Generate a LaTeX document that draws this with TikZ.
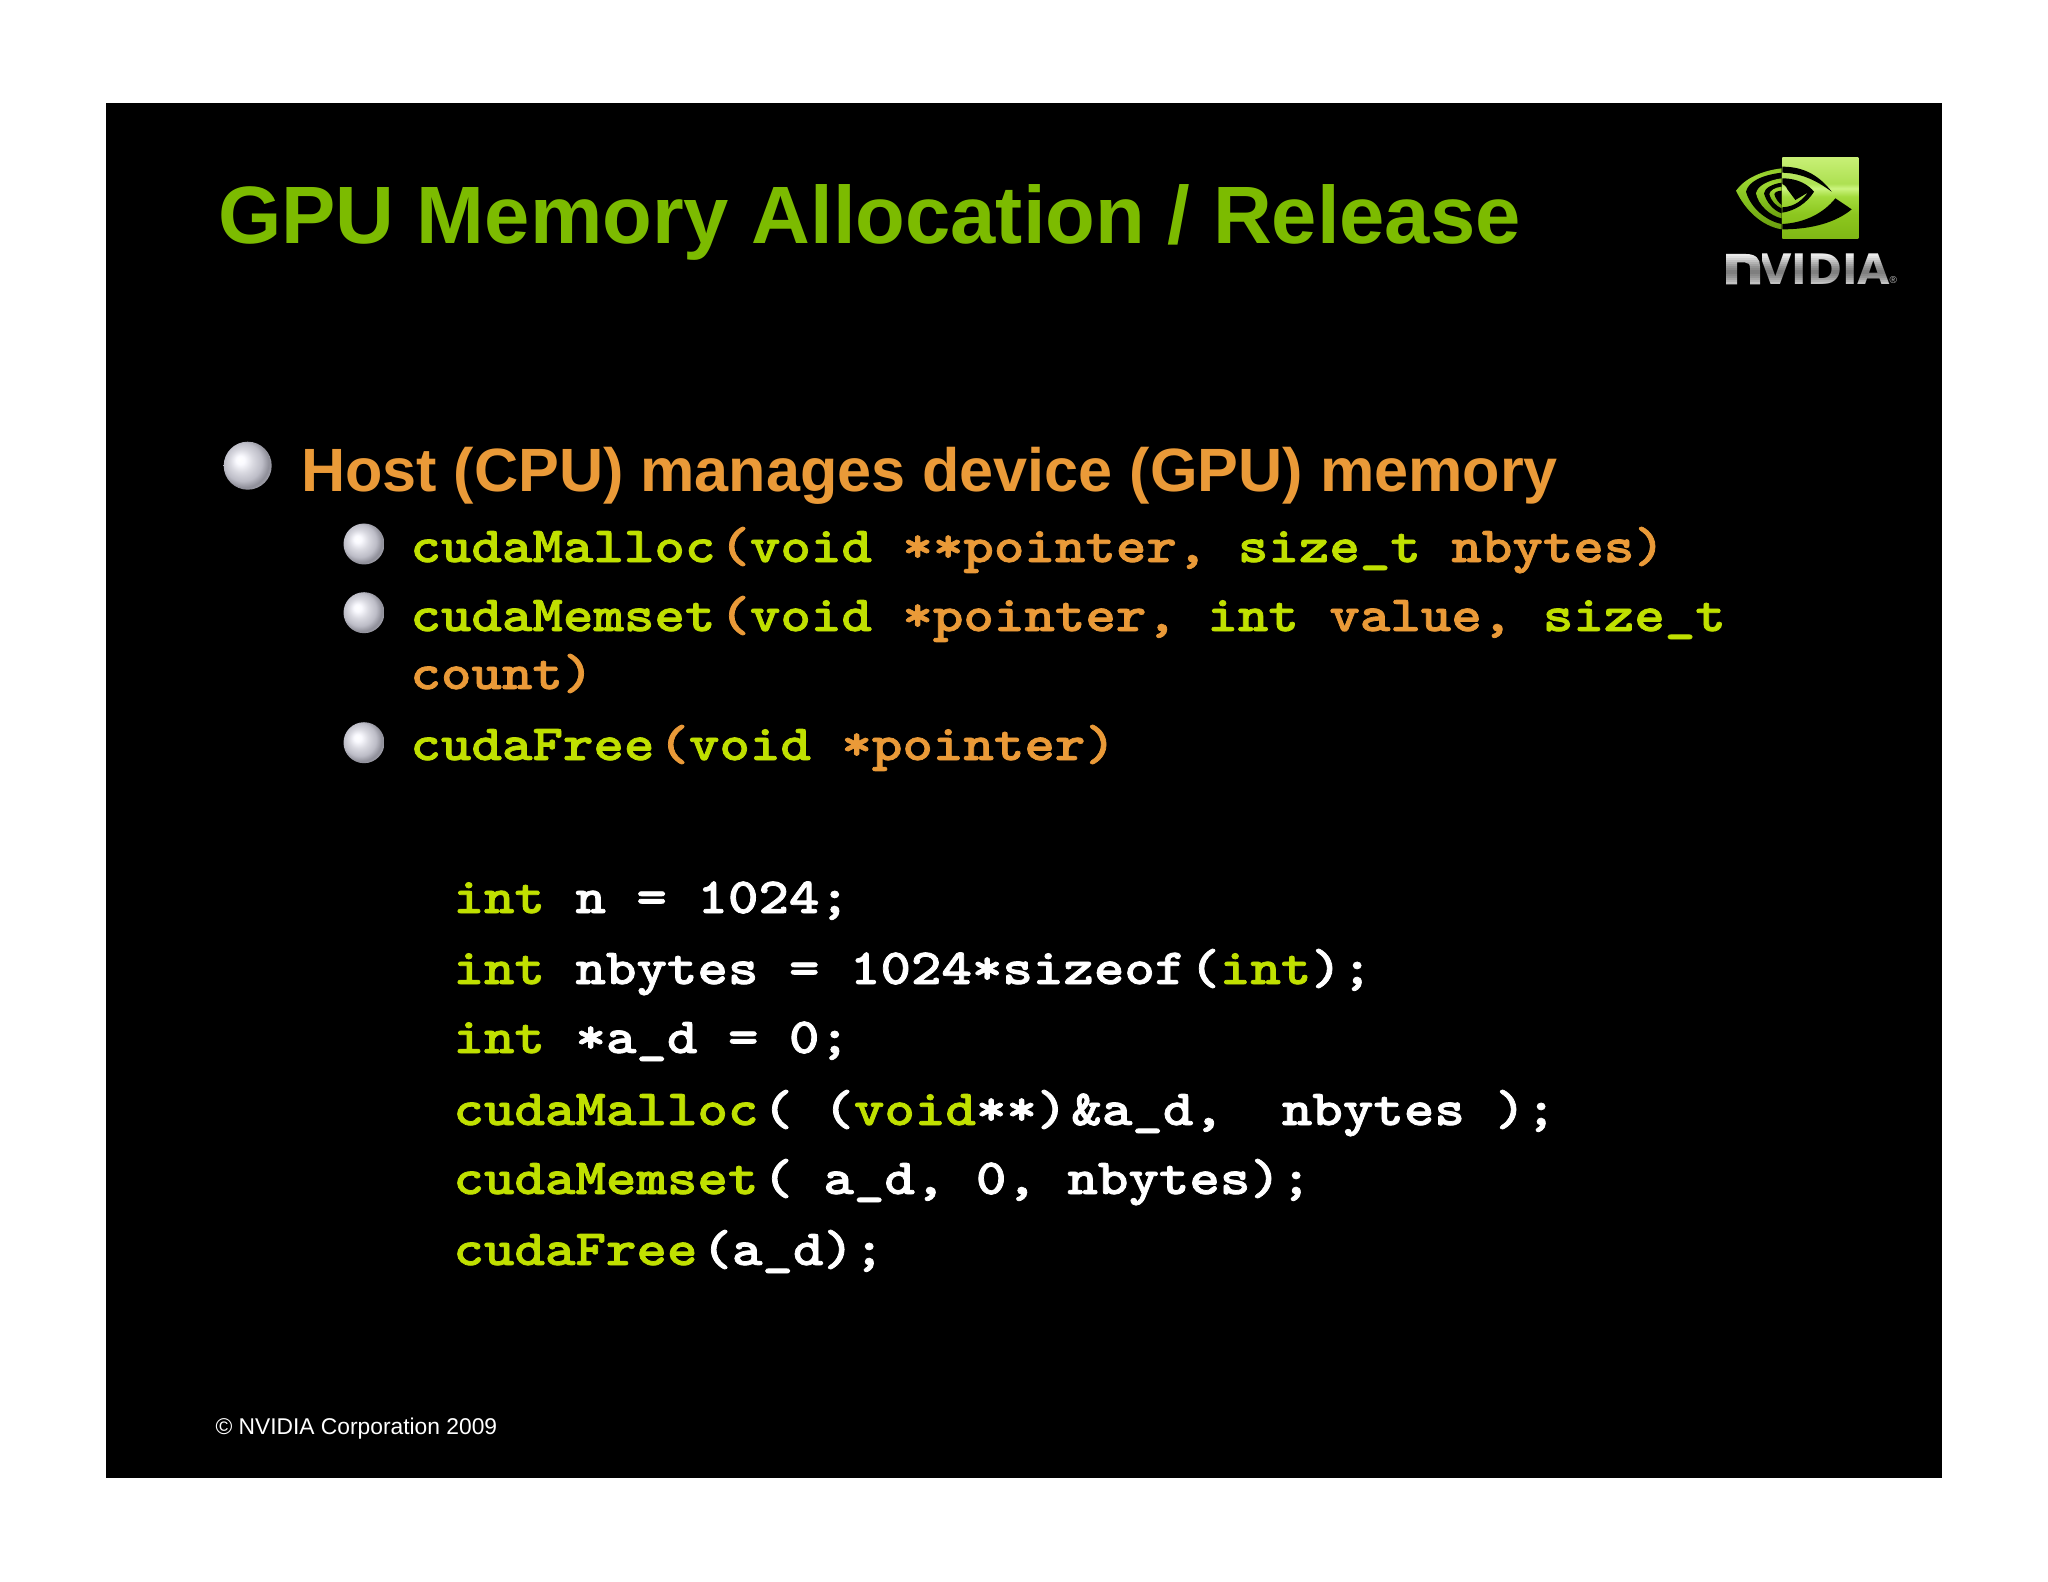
\documentclass[tikz,border=0pt]{standalone}
\usepackage{fontspec}
\setmainfont{Liberation Sans}
\newfontfamily\codefont[FakeStretch=1.148,BoldFont={Latin Modern Mono Light/B},BoldFeatures={FakeBold=1.5}]{Latin Modern Mono}
\newfontfamily\logofont{DejaVu Sans}
\definecolor{titlegreen}{HTML}{7CBB00}
\definecolor{bulorange}{HTML}{EA9A38}
\definecolor{codelime}{HTML}{C0E000}
\newcommand{\gc}[1]{\textcolor{codelime}{#1}}
\newcommand{\oc}[1]{\textcolor{bulorange}{#1}}
\newcommand{\rk}{\kern 2pt}
\pgfdeclareradialshading{ballsh}{\pgfpoint{-8.5bp}{6.5bp}}{%
  rgb(0bp)=(1,1,1);rgb(4.5bp)=(.98,.98,1);
  rgb(12bp)=(.85,.85,.88);rgb(20bp)=(.74,.74,.78);rgb(26bp)=(.56,.56,.60);
  rgb(31bp)=(.66,.66,.70);rgb(36bp)=(.72,.72,.76);rgb(50bp)=(.72,.72,.76)}
\pgfdeclareverticalshading{squaresh}{100bp}{%
  rgb(0bp)=(.50,.72,.08);rgb(25bp)=(.50,.72,.08);rgb(40bp)=(.55,.78,.12);rgb(51bp)=(.64,.86,.24);
  rgb(56bp)=(.80,.96,.50);rgb(59bp)=(.68,.88,.32);rgb(75bp)=(.78,.94,.46);rgb(100bp)=(.78,.94,.46)}
\pgfdeclareverticalshading{leafsh}{100bp}{%
  rgb(0bp)=(.42,.62,.06);rgb(25bp)=(.42,.62,.06);rgb(50bp)=(.52,.76,.12);rgb(68bp)=(.62,.84,.20);rgb(75bp)=(.55,.78,.15);rgb(100bp)=(.55,.78,.15)}
\tikzset{
  txt/.style={anchor=base west,inner sep=0pt,outer sep=0pt},
  codeline/.style={txt,font=\fontsize{25.3pt}{25.3pt}\codefont\bfseries,text=white},
  bigball/.style={circle,draw=none,inner sep=0pt,outer sep=0pt,minimum size=24pt,shading=ballsh},
  smallball/.style={bigball,minimum size=20.5pt},
}
\begin{document}
\begin{tikzpicture}[x=0.5pt,y=-0.5pt]
\useasboundingbox (0,0) rectangle (2048,1582);
\fill[white] (0,0) rectangle (2048,1582);
\fill[black] (106,103) rectangle (1942,1478);
\node[txt,text=titlegreen,font=\fontsize{40.7pt}{40.7pt}\bfseries] (title) at (218,244) {GPU Memory Allocation / Release};
\node[bigball] (bb) at (247.7,465.7) {};
\node[txt,text=bulorange,font=\fontsize{30.57pt}{30pt}\bfseries] (b1) at (301,492) {Host (CPU) manages device (GPU) memory};
\node[smallball] (bs1) at (364,544) {};
\node[smallball] (bs2) at (364,612.7) {};
\node[smallball] (bs3) at (364,742.7) {};
\node[codeline] (s1) at (410.5,562) {\gc{cudaMalloc}\rk\oc{(}\gc{void} \oc{**pointer,} \gc{size\_t} \oc{nbytes)}};
\node[codeline] (s2) at (410.5,631) {\gc{cudaMemset}\rk\oc{(}\gc{void} \oc{*pointer,} \gc{int} \oc{value,} \gc{size\_t}};
\node[codeline] (s2b) at (410.5,689) {\oc{count)}};
\node[codeline] (s3) at (410.5,760) {\gc{cudaFree}\rk\oc{(}\gc{void} \oc{*pointer)}};
\node[codeline] (c1) at (453.5,913) {\gc{int} n = 1024;};
\node[codeline] (c2) at (453.5,984) {\gc{int} nbytes = 1024*sizeof\rk(\gc{int});};
\node[codeline] (c3) at (453.5,1053) {\gc{int} *a\_d = 0;};
\node[codeline] (c4) at (453.5,1125) {\gc{cudaMalloc}\rk( (\gc{void}**)\rk\&a\_d,\ \ \kern-1.5pt nbytes );};
\node[codeline] (c5) at (453.5,1194) {\gc{cudaMemset}\rk( a\_d, 0, nbytes);};
\node[codeline] (c6) at (453.5,1265) {\gc{cudaFree}\rk(a\_d);};
\node[txt,text=white,font=\fontsize{11.4pt}{12pt}\selectfont] (foot) at (215.5,1434) {© NVIDIA Corporation 2009};
% logo, drawn in the coordinates of the 3x crop
\begin{scope}[shift={(1730,150)},x=0.1667pt,y=-0.1667pt]
  \shade[shading=leafsh] (155,55) .. controls (95,62) and (45,85) .. (18,122) .. controls (45,180) and (95,228) .. (155,238) -- cycle;
  \fill[black] (155,68) .. controls (95,75) and (55,95) .. (48,125) .. controls (60,170) and (105,212) .. (155,222) -- cycle;
  \shade[shading=leafsh] (155,85) .. controls (115,90) and (82,108) .. (78,130) .. controls (85,165) and (120,197) .. (155,205) -- cycle;
  \fill[black] (155,98) .. controls (125,102) and (104,115) .. (102,130) .. controls (108,155) and (130,182) .. (155,190) -- cycle;
  \shade[shading=leafsh] (155,110) .. controls (135,112) and (120,122) .. (118,132) .. controls (122,150) and (138,168) .. (155,175) -- cycle;
  \fill[black] (155,122) .. controls (143,122) and (133,127) .. (133,133) .. controls (136,145) and (145,158) .. (155,165) -- cycle;
  \shade[shading=squaresh] (157,23) rectangle (385,265);
  \fill[black] (157,50) .. controls (225,50) and (270,80) .. (305,125) .. controls (270,100) and (225,70) .. (157,68) -- cycle;
  \fill[black] (157,85) .. controls (205,85) and (235,105) .. (252,125) .. controls (230,160) and (195,182) .. (157,188)
     -- (157,172) .. controls (185,170) and (210,160) .. (233,128) -- (196,150) -- (172,118) .. controls (168,108) and (162,104) .. (157,102) -- cycle;
  \fill[black] (157,238) .. controls (250,238) and (320,215) .. (365,178) -- (316,145) .. controls (280,190) and (225,218) .. (157,222) -- cycle;
\end{scope}
\node[txt,text=white,font=\fontsize{21pt}{21pt}\logofont\bfseries] (logo) at (1724,284.3) {NVIDIA};
\fill[black] (1724,252) rectangle (1762,286);
\fill[white] (1726,284.3) -- (1726,254) -- (1746,254) .. controls (1756,254) and (1760,259) .. (1760,266) -- (1760,284.3) -- (1750,284.3) -- (1750,268) .. controls (1750,264) and (1748,262.5) .. (1745,262.5) -- (1737,262.5) -- (1737,284.3) -- cycle;
\foreach \yy/\op in {254/.08,256/.12,258/.18,260/.24,262/.30,264/.36,266/.42,268/.46,270/.50,272/.50,274/.46,276/.42,278/.36,280/.30,282/.24,284/.18}
  \fill[black,fill opacity=\op] (1722,\yy) rectangle (1889,\yy+2);
\node[txt,text=white!75!black,font=\fontsize{5pt}{6pt}\selectfont] (reg) at (1889.7,284) {®};
\end{tikzpicture}
\end{document}
